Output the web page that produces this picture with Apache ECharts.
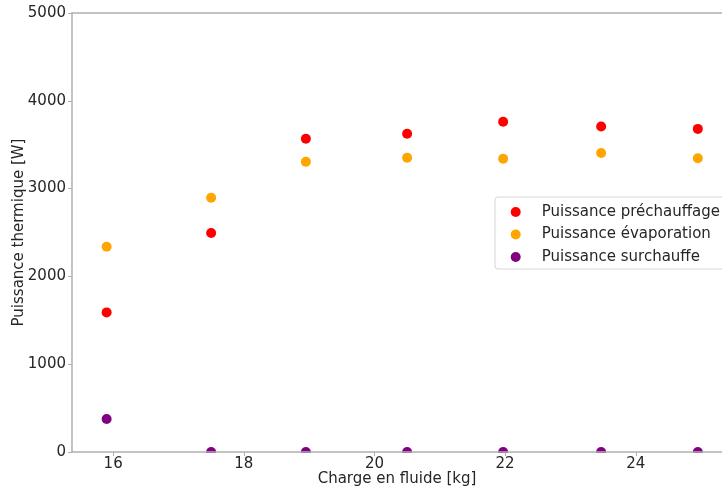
<!DOCTYPE html>
<html>
<head>
<meta charset="utf-8">
<script src="https://cdn.jsdelivr.net/npm/echarts@6/dist/echarts.min.js"></script>
<style>html,body{margin:0;padding:0;background:#fff;}#c{width:722px;height:491px;}</style>
</head>
<body>
<div id="c"></div>
<script>
var charge = [15.9, 17.5, 18.95, 20.5, 21.97, 23.47, 24.95];
var prechauffage = [1590, 2494, 3568, 3625, 3762, 3708, 3680];
var evaporation = [2338, 2896, 3306, 3352, 3340, 3405, 3345];
var surchauffe = [376, 0, 0, 0, 0, 0, 0];
var seriesNames = ['Puissance préchauffage', 'Puissance évaporation', 'Puissance surchauffe'];
var colors = ['#ff0000', '#ffa500', '#800080'];
var xTicks = [16, 18, 20, 22, 24];

function pairs(ys) { return charge.map(function (x, i) { return [x, ys[i]]; }); }
var font = 'DejaVu Sans';
var chart = echarts.init(document.getElementById('c'), null, {renderer: 'canvas'});
chart.setOption({
  animation: false,
  backgroundColor: '#fff',
  grid: {left: 72, right: 0, top: 13, bottom: 39, containLabel: false, outerBoundsMode: 'none'},
  graphic: [{
    type: 'rect', z: 2, silent: true,
    shape: {x: 72, y: 453, width: 650, height: 8},
    style: {fill: '#fff'}
  }],
  xAxis: [{
    type: 'value', min: 15.37, max: 25.32, interval: 2,
    z: 3, nameMoveOverlap: false,
    name: 'Charge en fluide [kg]', nameLocation: 'middle', nameGap: 20,
    nameTextStyle: {fontFamily: font, fontSize: 15, color: '#262626'},
    axisLine: {show: true, lineStyle: {color: '#b0b0b0', width: 1.5}},
    axisTick: {show: true, length: 4, lineStyle: {color: '#b0b0b0'}, customValues: xTicks},
    axisLabel: {fontFamily: font, fontSize: 15, color: '#262626', margin: 5, customValues: xTicks},
    splitLine: {show: false}
  }, {
    type: 'value', position: 'top', min: 15.37, max: 25.32, z: 3,
    axisLine: {show: true, onZero: false, lineStyle: {color: '#b0b0b0', width: 1.5}},
    axisTick: {show: false}, axisLabel: {show: false}, splitLine: {show: false}
  }],
  yAxis: {
    type: 'value', min: 0, max: 5000, interval: 1000, z: 3, nameMoveOverlap: false,
    name: 'Puissance thermique [W]', nameLocation: 'middle', nameGap: 45.5,
    nameTextStyle: {fontFamily: font, fontSize: 15, color: '#262626'},
    axisLine: {show: true, lineStyle: {color: '#b0b0b0', width: 1.5}},
    axisTick: {show: true, length: 4, lineStyle: {color: '#b0b0b0'}},
    axisLabel: {fontFamily: font, fontSize: 15, color: '#262626', margin: 6,
      formatter: function (v) { return String(v); }},
    splitLine: {show: false}
  },
  legend: {
    orient: 'vertical', left: 495, top: 197,
    padding: [6, 6, 3, 15.7],
    itemWidth: 10, itemHeight: 10, itemGap: 4.5,
    icon: 'circle', z: 4,
    borderColor: '#d6d6d6', borderWidth: 1, borderRadius: 3,
    backgroundColor: 'rgba(255,255,255,0.85)',
    textStyle: {fontFamily: font, fontSize: 15, color: '#262626', lineHeight: 18, padding: [0, 0, 0, 16]},
    data: seriesNames
  },
  series: [prechauffage, evaporation, surchauffe].map(function (ys, i) {
    return {
      name: seriesNames[i], type: 'scatter', clip: true, z: 1,
      symbol: 'circle', symbolSize: 10,
      itemStyle: {color: colors[i], opacity: 1},
      data: pairs(ys)
    };
  })
});
</script>
</body>
</html>
